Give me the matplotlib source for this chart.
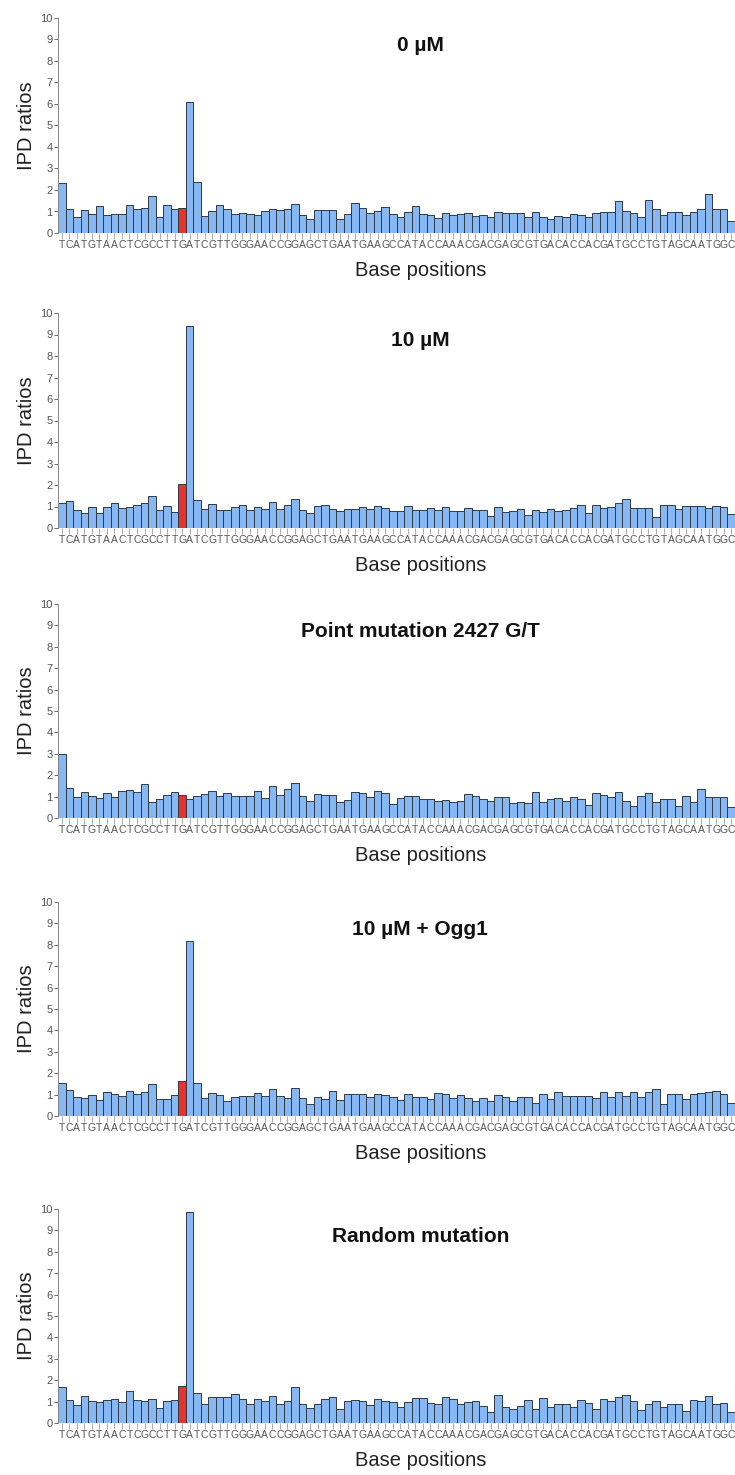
import matplotlib
matplotlib.use("Agg")
import matplotlib.pyplot as plt

plt.rcParams['font.family'] = ['Liberation Sans', 'DejaVu Sans']

sequence = list("TCATGTAACTCGCCTTGATCGTTGGGAACCGGAGCTGAATGAAGCCATACCAAACGACGAGCGTGACACCACGATGCCTGTAGCAATGGC")
site_index = 16  # the G of GATC, drawn in red

titles = ["0 \u00b5M", "10 \u00b5M", "Point mutation 2427 G/T", "10 \u00b5M + Ogg1", "Random mutation"]

ipd_0uM = [2.33, 1.1, 0.75, 1.09, 0.9, 1.24, 0.86, 0.9, 0.9, 1.32,
           1.12, 1.15, 1.74, 0.75, 1.29, 1.1, 1.18, 6.11, 2.36, 0.8,
           1.03, 1.32, 1.1, 0.87, 0.93, 0.9, 0.86, 1.01, 1.1, 1.06,
           1.13, 1.34, 0.86, 0.64, 1.09, 1.09, 1.06, 0.65, 0.9, 1.4,
           1.18, 0.95, 1.01, 1.22, 0.88, 0.76, 0.98, 1.27, 0.87, 0.82,
           0.71, 0.91, 0.84, 0.87, 0.91, 0.79, 0.84, 0.76, 0.96, 0.91,
           0.91, 0.91, 0.76, 0.96, 0.76, 0.67, 0.81, 0.76, 0.88, 0.84,
           0.76, 0.91, 0.98, 0.98, 1.49, 1.04, 0.91, 0.76, 1.53, 1.13,
           0.84, 0.99, 0.99, 0.82, 0.98, 1.1, 1.8, 1.13, 1.13, 0.56]

ipd_10uM = [1.14, 1.24, 0.82, 0.72, 0.96, 0.72, 0.96, 1.14, 0.93, 1.0,
            1.07, 1.18, 1.49, 0.86, 1.04, 0.73, 2.05, 9.38, 1.32, 0.87,
            1.12, 0.82, 0.82, 0.96, 1.06, 0.82, 1.0, 0.87, 1.21, 0.87,
            1.07, 1.35, 0.82, 0.7, 1.04, 1.07, 0.87, 0.78, 0.87, 0.87,
            0.96, 0.87, 1.03, 0.91, 0.81, 0.81, 1.02, 0.82, 0.84, 0.95,
            0.84, 0.98, 0.81, 0.79, 0.95, 0.82, 0.84, 0.56, 0.98, 0.76,
            0.81, 0.88, 0.6, 0.82, 0.76, 0.87, 0.79, 0.82, 0.93, 1.09,
            0.68, 1.09, 0.93, 0.98, 1.16, 1.36, 0.95, 0.95, 0.91, 0.5,
            1.09, 1.09, 0.9, 1.02, 1.04, 1.04, 0.93, 1.01, 1.0, 0.67]

ipd_point = [2.97, 1.38, 0.98, 1.21, 1.03, 0.93, 1.15, 0.98, 1.24, 1.29,
             1.2, 1.59, 0.73, 0.87, 1.09, 1.2, 1.07, 0.89, 1.03, 1.12,
             1.28, 1.01, 1.15, 1.01, 1.04, 1.04, 1.24, 0.95, 1.51, 1.09,
             1.34, 1.65, 1.01, 0.81, 1.12, 1.09, 1.06, 0.76, 0.82, 1.21,
             1.17, 1.0, 1.24, 1.17, 0.64, 0.95, 1.05, 1.05, 0.88, 0.88,
             0.81, 0.84, 0.76, 0.81, 1.1, 1.01, 0.9, 0.81, 0.96, 0.96,
             0.7, 0.76, 0.71, 1.21, 0.74, 0.87, 0.93, 0.79, 0.96, 0.88,
             0.59, 1.15, 1.07, 0.98, 1.21, 0.79, 0.54, 1.01, 1.18, 0.74,
             0.91, 0.88, 0.54, 1.01, 0.76, 1.35, 0.99, 0.99, 0.99, 0.51]

ipd_ogg1 = [1.55, 1.23, 0.91, 0.83, 0.98, 0.73, 1.12, 1.05, 0.94, 1.16,
            1.02, 1.12, 1.5, 0.78, 0.78, 0.98, 1.64, 8.17, 1.56, 0.86,
            1.06, 0.98, 0.72, 0.91, 0.94, 0.94, 1.06, 0.94, 1.28, 0.94,
            0.86, 1.3, 0.83, 0.58, 0.91, 0.8, 1.19, 0.73, 1.05, 1.03,
            1.03, 0.89, 1.02, 0.96, 0.9, 0.73, 1.01, 0.9, 0.91, 0.78,
            1.07, 1.01, 0.82, 0.98, 0.85, 0.68, 0.84, 0.7, 0.98, 0.88,
            0.7, 0.87, 0.9, 0.59, 1.02, 0.81, 1.12, 0.95, 0.95, 0.95,
            0.95, 0.85, 1.12, 0.88, 1.12, 0.93, 1.12, 0.88, 1.12, 1.24,
            0.56, 1.01, 1.01, 0.81, 1.01, 1.07, 1.1, 1.15, 1.05, 0.62]

ipd_random = [1.68, 1.06, 0.86, 1.25, 1.01, 0.97, 1.06, 1.14, 0.97, 1.48,
              1.06, 1.01, 1.14, 0.72, 1.05, 1.06, 1.73, 9.84, 1.42, 0.87,
              1.2, 1.23, 1.2, 1.36, 1.14, 0.87, 1.11, 1.05, 1.25, 0.9,
              1.05, 1.68, 0.87, 0.69, 0.9, 1.11, 1.2, 0.66, 1.05, 1.06,
              1.01, 0.84, 1.14, 1.03, 0.99, 0.73, 0.99, 1.19, 1.19, 0.95,
              0.91, 1.22, 1.1, 0.91, 0.98, 1.05, 0.81, 0.53, 1.32, 0.76,
              0.65, 0.79, 1.09, 0.64, 1.16, 0.73, 0.88, 0.9, 0.76, 1.09,
              0.95, 0.64, 1.13, 1.01, 1.21, 1.32, 1.02, 0.59, 0.87, 1.02,
              0.73, 0.87, 0.9, 0.54, 1.09, 1.01, 1.27, 0.87, 0.95, 0.51]

series = [ipd_0uM, ipd_10uM, ipd_point, ipd_ogg1, ipd_random]

# axes placement in pixels (top of y=10, y=0 baseline)
W, H = 735, 1475
panel_px = [(18, 233), (313, 528), (604, 818), (902, 1116), (1209, 1423)]
left_px, right_px = 58, 735

blue = "#88b8f4"
red = "#e8322c"
gray = "#555555"

fig = plt.figure(figsize=(W / 100, H / 100), dpi=100)

for values, title, (top, bottom) in zip(series, titles, panel_px):
    ax = fig.add_axes([left_px / W, 1 - bottom / H,
                       (right_px - left_px) / W, (bottom - top) / H])
    x = list(range(len(sequence)))
    colors = [red if i == site_index else blue for i in x]
    ax.bar(x, values, width=1.0, color=colors, edgecolor="#2f3a45", linewidth=0.7)
    ax.set_xlim(-0.5, len(sequence) - 0.5)
    ax.set_ylim(0, 10)
    ax.set_yticks(range(0, 11))
    ax.set_xticks(x)
    ax.set_xticklabels(sequence, fontsize=7.5, color=gray)
    ax.tick_params(axis="y", labelsize=8, colors=gray, length=3, width=0.6, pad=1)
    ax.tick_params(axis="x", length=4, width=0.5, colors="#888888", labelcolor=gray, pad=1)
    for side in ["top", "right", "bottom"]:
        ax.spines[side].set_visible(False)
    ax.spines["left"].set_color("#888888")
    ax.spines["left"].set_linewidth(0.7)
    ax.set_ylabel("IPD ratios", fontsize=14.5, color="#222222", labelpad=3)
    ax.set_xlabel("Base positions", fontsize=14.5, color="#222222")
    ax.xaxis.set_label_coords(0.535, -0.13)
    ax.xaxis.label.set_va("top")
    ax.text(0.535, 0.87, title, transform=ax.transAxes, ha="center", va="center",
            fontsize=15, fontweight="bold", color="#111111")

fig.savefig("out.png", dpi=100)
